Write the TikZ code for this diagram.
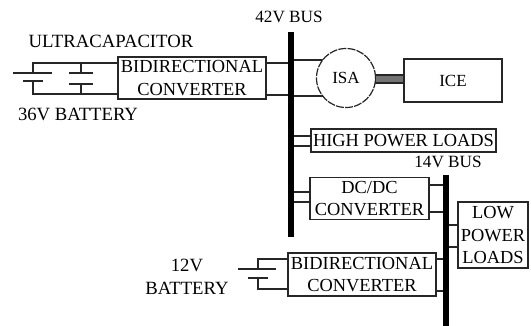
\documentclass[tikz,border=0pt]{standalone}
\usepackage{fontspec}
\setmainfont{Liberation Serif}
\usetikzlibrary{calc,positioning}
\tikzset{
  wire/.style={line width=1.1pt,black!85},
  buslabel/.style={font=\fontsize{18.7}{22.5}\selectfont,align=center,inner sep=0pt},
  boxnode/.style={draw=black!85,line width=1.2pt,fill=white,inner sep=0pt,outer sep=0pt,font=\fontsize{18.4}{22.7}\selectfont,align=center},
  busbar/.style={fill=black,inner sep=0pt,outer sep=0pt,minimum width=6pt}
}
\begin{document}
\begin{tikzpicture}[x=1pt,y=-1pt]
    \useasboundingbox (0,0) rectangle (531,326);
    % links to the ISA go under its circle
    \coordinate (isaTop) at (330,60);
    \coordinate (isaBot) at (330,96);
    % buses
    \node[busbar,minimum height=205pt] (busA) at (291,134.5) {};
    \node[busbar,minimum height=151pt] (busB) at (446,250.5) {};
    \draw[wire] (busA.east |- isaTop) -- (isaTop);
    \draw[wire] (busA.east |- isaBot) -- (isaBot);
    % boxes
    \node[boxnode,minimum width=148pt,minimum height=42pt] (convA) at (192,78) {BIDIRECTIONAL\\CONVERTER};
    \node[boxnode,font=\fontsize{17}{20}\selectfont,minimum width=98pt,minimum height=43pt] (ice) at (453,80.5) {ICE};
    \node[boxnode,minimum width=185pt,minimum height=23pt] (hiload) at (403.5,140.5) {HIGH POWER LOADS};
    \node[boxnode,minimum width=119pt,minimum height=42pt] (dcdc) at (369.5,198.5) {DC/DC\\CONVERTER};
    \node[boxnode,minimum width=70pt,minimum height=66pt] (loload) at (493,235) {LOW\\POWER\\LOADS};
    \node[boxnode,minimum width=148pt,minimum height=43pt] (convB) at (362,274.5) {BIDIRECTIONAL\\CONVERTER};
    \node[boxnode,circle,font=\fontsize{17}{20}\selectfont,dash pattern=on 8pt off 1.2pt,minimum size=59pt] (isa) at (346,78) {ISA};
    % labels
    \node[buslabel,font=\fontsize{17.2}{20}\selectfont] (lblA) at (289,17) {42V BUS};
    \node[buslabel,font=\fontsize{17.2}{20}\selectfont] (lblB) at (448,162) {14V BUS};
    \node[buslabel] (lblcap) at (111,41) {ULTRACAPACITOR};
    \node[buslabel] (lblbatA) at (78,114) {36V BATTERY};
    \node[buslabel] (lblbatB) at (187,277) {12V\\BATTERY};
    % shaft
    \draw[line width=1.2pt,black!85,fill=black!55] (isa.east |- 0,75) rectangle (ice.west |- 0,83);
    % 36V battery and ultracapacitor
    \coordinate (batAtop) at (33,63);
    \coordinate (batAbot) at (33,94);
    \coordinate (batAp) at (33,73);
    \coordinate (batAn) at (33,81);
    \coordinate (capAtop) at (81,63);
    \coordinate (capAbot) at (81,94);
    \coordinate (capAp) at (81,73);
    \coordinate (capAn) at (81,84);
    \draw[wire] (batAp) -- (batAtop) -- (convA.west |- batAtop);
    \draw[wire] (batAn) -- (batAbot) -- (convA.west |- batAbot);
    \draw[wire] (capAtop) -- (capAp);
    \draw[wire] (capAbot) -- (capAn);
    \draw[wire] (13,73) -- (52,73);
    \draw[wire] (23,81) -- (43,81);
    \draw[wire] (69,73) -- (93,73);
    \draw[wire] (69,84) -- (93,84);
    % 12V battery
    \coordinate (batBtop) at (258,259);
    \coordinate (batBbot) at (258,289);
    \coordinate (batBp) at (258,269);
    \coordinate (batBn) at (258,278);
    \draw[wire] (batBp) -- (batBtop) -- (convB.west |- batBtop);
    \draw[wire] (batBn) -- (batBbot) -- (convB.west |- batBbot);
    \draw[wire] (238,269) -- (276,269);
    \draw[wire] (248,278) -- (268,278);
    % links to the buses
    \draw[wire] (convA.east |- 0,63) -- (busA.west |- 0,63);
    \draw[wire] (convA.east |- 0,95) -- (busA.west |- 0,95);
    \draw[wire] (busA.east |- 0,136) -- (hiload.west |- 0,136);
    \draw[wire] (busA.east |- 0,146) -- (hiload.west |- 0,146);
    \draw[wire] (busA.east |- 0,192) -- (dcdc.west |- 0,192);
    \draw[wire] (busA.east |- 0,202) -- (dcdc.west |- 0,202);
    \draw[wire] (dcdc.east |- 0,185) -- (busB.west |- 0,185);
    \draw[wire] (dcdc.east |- 0,212) -- (busB.west |- 0,212);
    \draw[wire] (busB.east |- 0,225) -- (loload.west |- 0,225);
    \draw[wire] (busB.east |- 0,247) -- (loload.west |- 0,247);
    \draw[wire] (convB.east |- 0,259) -- (busB.west |- 0,259);
    \draw[wire] (convB.east |- 0,291) -- (busB.west |- 0,291);
\end{tikzpicture}
\end{document}
